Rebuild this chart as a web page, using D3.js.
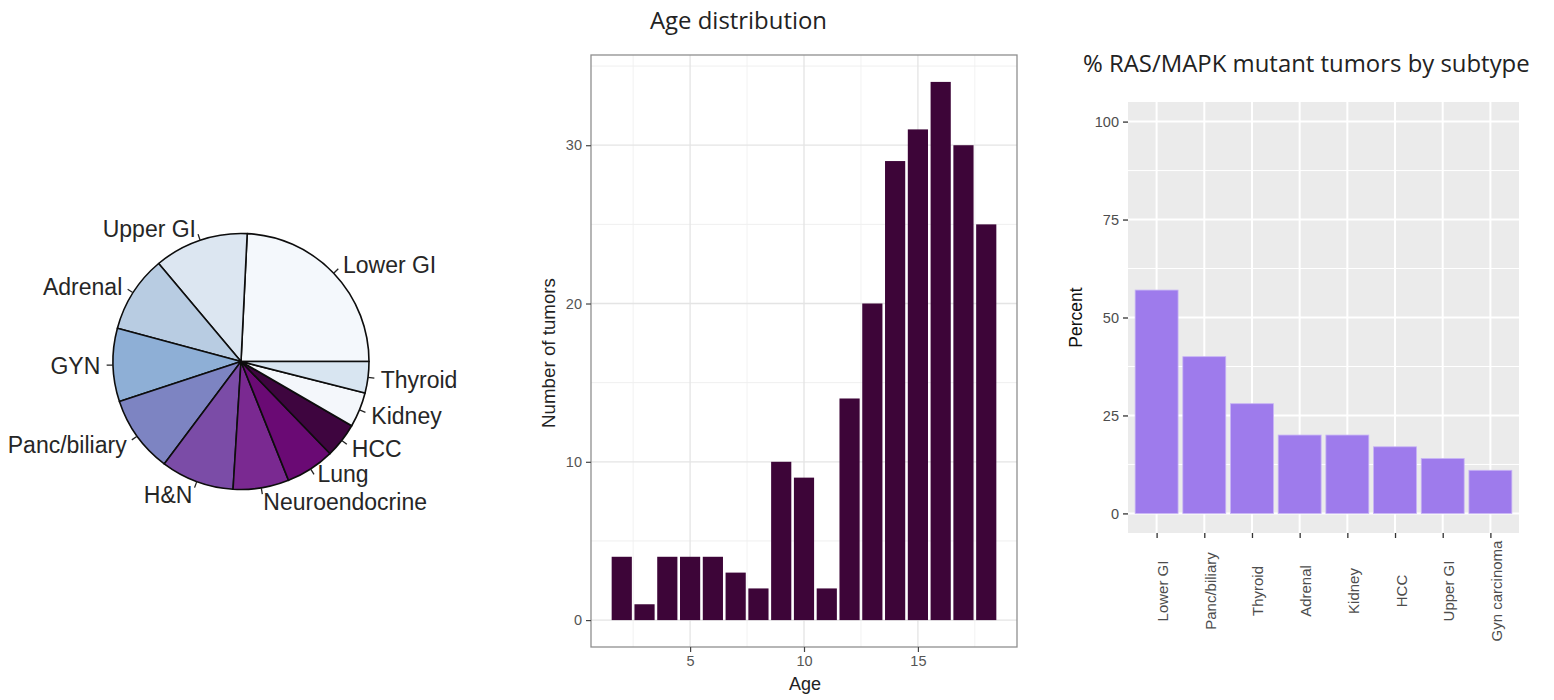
<!DOCTYPE html>
<html>
<head>
<meta charset="utf-8">
<script src="https://cdn.jsdelivr.net/npm/d3@7"></script>
<style>
  html, body { margin: 0; padding: 0; background: #fff; }
  svg { display: block; }
</style>
</head>
<body>
<svg id="chart" width="1554" height="700"></svg>
<script>
// ---------------- DATA ----------------
const pieLabels = ["Lower GI", "Upper GI", "Adrenal", "GYN", "Panc/biliary", "H&N",
                   "Neuroendocrine", "Lung", "HCC", "Kidney", "Thyroid"];
const pieValues = [55, 27, 22, 21, 22, 21, 16, 14, 10, 10, 9];

const ages = [2, 3, 4, 5, 6, 7, 8, 9, 10, 11, 12, 13, 14, 15, 16, 17, 18];
const ageCounts = [4, 1, 4, 4, 4, 3, 2, 10, 9, 2, 14, 20, 29, 31, 34, 30, 25];
const histXTicks = [5, 10, 15];
const histYTicks = [0, 10, 20, 30];

const subtypes = ["Lower GI", "Panc/biliary", "Thyroid", "Adrenal", "Kidney", "HCC", "Upper GI", "Gyn carcinoma"];
const subtypePercents = [57, 40, 28, 20, 20, 17, 14, 11];
const barYTicks = [0, 25, 50, 75, 100];

// ---------------- STYLES ----------------
const pieColors = ["#f4f8fc", "#dce6f1", "#b8cce2", "#8eafd6", "#7d84c2", "#7b4ca7",
                   "#7a2991", "#6a0a74", "#3e053f", "#f4f7fb", "#d8e5f1"];
const pieLabelNudgeY = { "Lung": -7 };
const axisFont = "'Liberation Sans', Arial, Helvetica, sans-serif";
const titleFont = "'Open Sans', 'Noto Sans', sans-serif";

const svg = d3.select("#chart");

function fitWidth(sel, target) {
  const n = sel.node();
  const w = n.getComputedTextLength();
  const fs = parseFloat(sel.attr("font-size"));
  sel.attr("font-size", (fs * target / w).toFixed(2));
}

// ================= PIE =================
{
  const cx = 241, cy = 361.5, r = 128;
  const g = svg.append("g").attr("transform", `translate(${cx},${cy})`);
  const pie = d3.pie().sort(null).value(d => d)
    .startAngle(Math.PI / 2).endAngle(Math.PI / 2 - 2 * Math.PI);
  const arcs = pie(pieValues);
  const arc = d3.arc().innerRadius(0).outerRadius(r);

  g.selectAll("path.slice").data(arcs).enter().append("path")
    .attr("class", "slice")
    .attr("d", arc)
    .attr("fill", (d, i) => pieColors[i])
    .attr("stroke", "#0d0d0d")
    .attr("stroke-width", 1.6)
    .attr("stroke-linejoin", "round");

  arcs.forEach((d, i) => {
    const mid = (d.startAngle + d.endAngle) / 2;
    const sx = Math.sin(mid), sy = -Math.cos(mid);
    g.append("line")
      .attr("x1", sx * r).attr("y1", sy * r)
      .attr("x2", sx * r * 1.05).attr("y2", sy * r * 1.05)
      .attr("stroke", "#222").attr("stroke-width", 1.3);
    g.append("text")
      .attr("x", sx * r * 1.1)
      .attr("y", sy * r * 1.1 + 1 + (pieLabelNudgeY[pieLabels[i]] || 0))
      .attr("text-anchor", sx >= 0 ? "start" : "end")
      .attr("dominant-baseline", "central")
      .attr("font-family", axisFont)
      .attr("font-size", 23)
      .attr("fill", "#262626")
      .text(pieLabels[i]);
  });
}

// ================= HISTOGRAM =================
{
  const L = 591, R = 1017, T = 55, B = 647;
  const x = d3.scaleLinear().domain([0.65, 19.35]).range([L, R]);
  const y = d3.scaleLinear().domain([-1.7, 35.7]).range([B, T]);
  const g = svg.append("g");

  // minor grid
  const xMinor = [2.5, 7.5, 12.5, 17.5];
  const yMinor = [5, 15, 25, 35];
  g.selectAll("line.xmin").data(xMinor).enter().append("line")
    .attr("x1", d => x(d)).attr("x2", d => x(d)).attr("y1", T).attr("y2", B)
    .attr("stroke", "#f2f2f2").attr("stroke-width", 1);
  g.selectAll("line.ymin").data(yMinor).enter().append("line")
    .attr("y1", d => y(d)).attr("y2", d => y(d)).attr("x1", L).attr("x2", R)
    .attr("stroke", "#efefef").attr("stroke-width", 1);
  // major grid
  g.selectAll("line.xmaj").data(histXTicks).enter().append("line")
    .attr("x1", d => x(d)).attr("x2", d => x(d)).attr("y1", T).attr("y2", B)
    .attr("stroke", "#e4e4e4").attr("stroke-width", 1.3);
  g.selectAll("line.ymaj").data(histYTicks).enter().append("line")
    .attr("y1", d => y(d)).attr("y2", d => y(d)).attr("x1", L).attr("x2", R)
    .attr("stroke", "#e4e4e4").attr("stroke-width", 1.3);

  // bars
  const inset = 1.3;
  g.selectAll("rect.bar").data(ages).enter().append("rect")
    .attr("class", "bar")
    .attr("x", d => x(d - 0.5) + inset)
    .attr("width", d => x(d + 0.5) - x(d - 0.5) - 2 * inset)
    .attr("y", (d, i) => y(ageCounts[i]))
    .attr("height", (d, i) => y(0) - y(ageCounts[i]))
    .attr("fill", "#3d0538");

  // border
  g.append("rect").attr("x", L).attr("y", T).attr("width", R - L).attr("height", B - T)
    .attr("fill", "none").attr("stroke", "#8f8f8f").attr("stroke-width", 1.3);

  // axes
  const xAxis = d3.axisBottom(x).tickValues(histXTicks).tickSize(5).tickPadding(4);
  const yAxis = d3.axisLeft(y).tickValues(histYTicks).tickSize(5).tickPadding(4);
  const gx = g.append("g").attr("transform", `translate(0,${B})`).call(xAxis);
  const gy = g.append("g").attr("transform", `translate(${L},0)`).call(yAxis);
  [gx, gy].forEach(a => {
    a.select(".domain").remove();
    a.selectAll(".tick line").attr("stroke", "#444").attr("stroke-width", 1.2);
    a.selectAll(".tick text").attr("font-family", axisFont).attr("font-size", 14.5)
      .attr("fill", "#555");
  });

  g.append("text").attr("x", (L + R) / 2 + 1).attr("y", 690)
    .attr("text-anchor", "middle").attr("font-family", axisFont).attr("font-size", 18)
    .attr("fill", "#222").text("Age");
  const yl = g.append("text")
    .attr("transform", `translate(555,${(T + B) / 2 + 2}) rotate(-90)`)
    .attr("text-anchor", "middle").attr("font-family", axisFont).attr("font-size", 19)
    .attr("fill", "#222").text("Number of tumors");
  fitWidth(yl, 150);

  const t = g.append("text").attr("x", 650).attr("y", 29)
    .attr("font-family", titleFont).attr("font-size", 21).attr("fill", "#222")
    .text("Age distribution");
  fitWidth(t, 177);
}

// ================= BAR CHART =================
{
  const L = 1128, R = 1519, T = 102, B = 533;
  const x = d3.scalePoint().domain(subtypes).range([L, R]).padding(0.6);
  const step = x.step();
  const y = d3.scaleLinear().domain([-5, 105]).range([B, T]);
  const g = svg.append("g");

  g.append("rect").attr("x", L).attr("y", T).attr("width", R - L).attr("height", B - T)
    .attr("fill", "#ebebeb");

  const yMinor = [12.5, 37.5, 62.5, 87.5];
  g.selectAll("line.ymin").data(yMinor).enter().append("line")
    .attr("y1", d => y(d)).attr("y2", d => y(d)).attr("x1", L).attr("x2", R)
    .attr("stroke", "#fff").attr("stroke-width", 1);
  g.selectAll("line.ymaj").data(barYTicks).enter().append("line")
    .attr("y1", d => y(d)).attr("y2", d => y(d)).attr("x1", L).attr("x2", R)
    .attr("stroke", "#fff").attr("stroke-width", 2);
  g.selectAll("line.xmaj").data(subtypes).enter().append("line")
    .attr("x1", d => x(d)).attr("x2", d => x(d)).attr("y1", T).attr("y2", B)
    .attr("stroke", "#fff").attr("stroke-width", 2);

  g.selectAll("rect.bar").data(subtypes).enter().append("rect")
    .attr("class", "bar")
    .attr("x", d => x(d) - step * 0.45)
    .attr("width", step * 0.9)
    .attr("y", (d, i) => y(subtypePercents[i]))
    .attr("height", (d, i) => y(0) - y(subtypePercents[i]))
    .attr("fill", "#9e7bec")
    .attr("stroke", "#c7b3f5").attr("stroke-width", 0.8);

  const yAxis = d3.axisLeft(y).tickValues(barYTicks).tickSize(5).tickPadding(4);
  const gy = g.append("g").attr("transform", `translate(${L},0)`).call(yAxis);
  gy.select(".domain").remove();
  gy.selectAll(".tick line").attr("stroke", "#333").attr("stroke-width", 1.3);
  gy.selectAll(".tick text").attr("font-family", axisFont).attr("font-size", 14.5)
    .attr("fill", "#4d4d4d");

  const xAxis = d3.axisBottom(x).tickSize(5).tickFormat(() => "");
  const gx = g.append("g").attr("transform", `translate(0,${B})`).call(xAxis);
  gx.select(".domain").remove();
  gx.selectAll(".tick line").attr("stroke", "#333").attr("stroke-width", 1.3);

  g.selectAll("text.xlab").data(subtypes).enter().append("text")
    .attr("class", "xlab")
    .attr("transform", d => `translate(${x(d) + 6},591) rotate(-90)`)
    .attr("text-anchor", "middle")
    .attr("dominant-baseline", "central")
    .attr("font-family", axisFont).attr("font-size", 15).attr("fill", "#4d4d4d")
    .text(d => d);

  g.append("text")
    .attr("transform", `translate(1082,${(T + B) / 2}) rotate(-90)`)
    .attr("text-anchor", "middle").attr("font-family", axisFont).attr("font-size", 17.5)
    .attr("fill", "#111").text("Percent");

  const t = g.append("text").attr("x", 1083).attr("y", 72)
    .attr("font-family", titleFont).attr("font-size", 22).attr("fill", "#222")
    .text("% RAS/MAPK mutant tumors by subtype");
  fitWidth(t, 447);
}
</script>
</body>
</html>
